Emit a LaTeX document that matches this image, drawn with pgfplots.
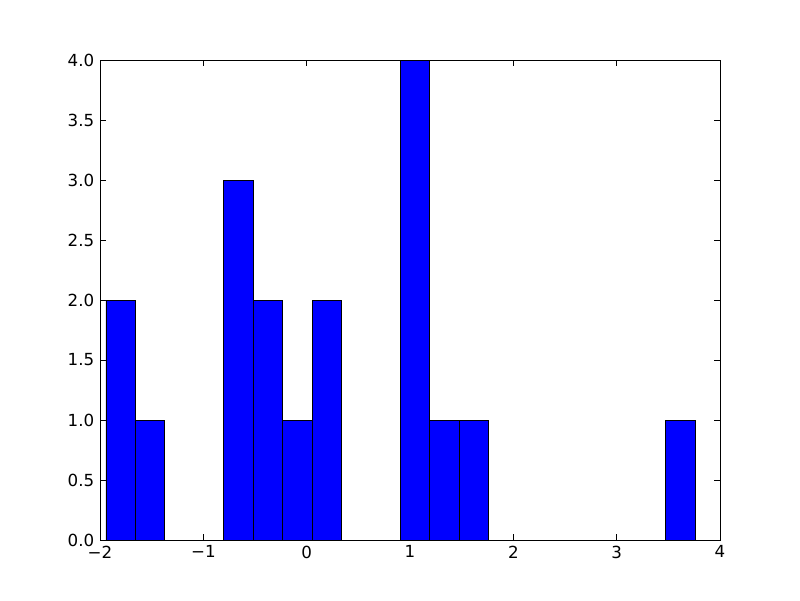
\documentclass[border=0pt]{standalone}
\usepackage{fontspec}
\setmainfont{DejaVu Sans}
\usepackage{pgfplots}
\pgfplotsset{compat=1.18}
\begin{document}
\fontsize{12.5}{15}\selectfont
\begin{tikzpicture}
\begin{axis}[
  scale only axis,
  width=465pt, height=360pt,
  xmin=-2, xmax=4, ymin=0, ymax=4,
  xtick={-2,-1,0,1,2,3,4},
  xticklabels={−2,−1,0,1,2,3,4},
  ytick={0,0.5,1,1.5,2,2.5,3,3.5,4},
  yticklabels={0.0,0.5,1.0,1.5,2.0,2.5,3.0,3.5,4.0},
  tick align=inside,
  tick pos=both,
  major tick length=4.2pt,
  axis line style={line width=0.75pt},
  every tick/.style={black, line width=0.75pt},
  tick label style={font=\fontsize{12.5}{15}\selectfont},
  /pgf/number format/assume math mode=true,
]
\addplot[ybar interval, fill={rgb,255:red,0;green,0;blue,255}, draw=black, line width=0.7pt] coordinates {
(-1.942,2) (-1.657,1) (-1.372,0) (-1.087,0) (-0.802,3) (-0.517,2) (-0.232,1)
(0.053,2) (0.338,0) (0.623,0) (0.908,4) (1.193,1) (1.478,1) (1.763,0)
(2.048,0) (2.333,0) (2.618,0) (2.903,0) (3.188,0) (3.473,1) (3.758,1)
};
\end{axis}
\path (current axis.south west) ++(-75pt,-45pt) coordinate (bbA);
\path (current axis.north east) ++(60pt,45pt) coordinate (bbB);
\useasboundingbox (bbA) rectangle (bbB);
\end{tikzpicture}
\end{document}
